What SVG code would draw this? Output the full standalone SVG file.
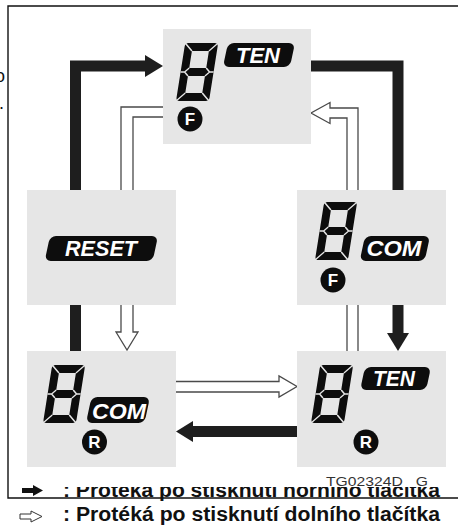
<svg xmlns="http://www.w3.org/2000/svg" xmlns:xlink="http://www.w3.org/1999/xlink" width="458" height="527" viewBox="0 0 458 527">
<style>
.box{fill:#e6e6e6}
.thick{fill:none;stroke:#1e1e1e;stroke-width:11;stroke-linejoin:miter}
.head{fill:#1e1e1e}
.open{fill:#fff;stroke:#4a4a4a;stroke-width:1.3;stroke-linejoin:miter}
.badge{fill:#0d0d0d}
.btxt{fill:#fff;font-family:"Liberation Sans",Arial,sans-serif;font-weight:bold;font-style:italic;font-size:22px;text-anchor:middle}
.ctxt{fill:#fff;font-family:"Liberation Sans",Arial,sans-serif;font-weight:bold;font-size:17px;text-anchor:middle}
.frame{fill:none;stroke:#111;stroke-width:1.4}
.leg{fill:#111;font-family:"Liberation Sans",Arial,sans-serif;font-weight:bold;font-size:20px}
</style>
<defs>
<g id="d8" transform="translate(0,58) skewX(-9) translate(0,-58)">
<path fill="#0d0d0d" fill-rule="evenodd" d="M3.5,0 H29.5 Q33,0 33,3.5 V54.5 Q33,58 29.5,58 H3.5 Q0,58 0,54.5 V3.5 Q0,0 3.5,0 Z M8,8 V25 H25 V8 Z M8,33 V50 H25 V33 Z"/>
<path fill="none" stroke="#e6e6e6" stroke-width="1.4" d="M0,0 L8,8 M33,0 L25,8 M0,58 L8,50 M33,58 L25,50 M0,29 L4,29 L8,25 M4,29 L8,33 M33,29 L29,29 L25,25 M29,29 L25,33"/>
</g>
<clipPath id="legclip"><rect x="0" y="487" width="458" height="40"/></clipPath>
</defs>
<rect width="458" height="527" fill="#fff"/>
<text x="-5" y="82" style="font-family:'Liberation Sans',Arial,sans-serif;font-size:18px;fill:#111">o</text>
<text x="-1" y="109" style="font-family:'Liberation Sans',Arial,sans-serif;font-size:18px;fill:#111">.</text>
<path class="frame" d="M458,6 H8 V498 H458"/>
<g id="connectors">
<path class="thick" d="M75.5,351 V66 H146"/>
<polygon class="head" points="145,55 163,66 145,77"/>
<path class="thick" d="M311,66 H398 V334"/>
<polygon class="head" points="387,333 409,333 398,351"/>
<path class="thick" d="M297,431.5 H192"/>
<polygon class="head" points="193,421 193,442 176,431.5"/>
<polygon class="open" points="166,107 121,107 121,332 116,332 127,350 138,332 133,332 133,117 166,117"/>
<polygon class="open" points="358,354 358,108 330,108 330,102.5 311,113 330,123.5 330,118 347,118 347,354"/>
<polygon class="open" points="173,381.5 279,381.5 279,376 297,386.5 279,397 279,392 173,392"/>
</g>
<g id="node-top">
<rect class="box" x="163" y="29" width="148" height="115"/>
<use xlink:href="#d8" x="176" y="43"/>
<g transform="translate(223,43)"><rect class="badge" x="5" y="0" width="67" height="24" rx="6" transform="skewX(-12)"/></g>
<text class="btxt" x="258" y="63" textLength="44" lengthAdjust="spacingAndGlyphs">TEN</text>
<circle cx="190" cy="119" r="12.5" fill="#0d0d0d"/>
<text class="ctxt" x="190" y="125">F</text>
</g>
<g id="node-reset">
<rect class="box" x="27" y="190" width="149" height="115"/>
<g transform="translate(45,236)"><rect class="badge" x="5" y="0" width="108" height="25" rx="6" transform="skewX(-12)"/></g>
<text class="btxt" x="101" y="256" textLength="72" lengthAdjust="spacingAndGlyphs">RESET</text>
</g>
<g id="node-comf">
<rect class="box" x="297" y="190" width="149" height="115"/>
<use xlink:href="#d8" x="315" y="202"/>
<g transform="translate(360,236)"><rect class="badge" x="5" y="0" width="65" height="25" rx="6" transform="skewX(-12)"/></g>
<text class="btxt" x="394" y="256" textLength="55" lengthAdjust="spacingAndGlyphs">COM</text>
<circle cx="333" cy="280" r="12.5" fill="#0d0d0d"/>
<text class="ctxt" x="333" y="286">F</text>
</g>
<g id="node-comr">
<rect class="box" x="27" y="351" width="149" height="116"/>
<use xlink:href="#d8" x="43" y="365"/>
<g transform="translate(86,397)"><rect class="badge" x="5.5" y="0" width="58.5" height="26" rx="6" transform="skewX(-12)"/></g>
<text class="btxt" x="119" y="419" textLength="54" lengthAdjust="spacingAndGlyphs">COM</text>
<circle cx="94.5" cy="442" r="12.5" fill="#0d0d0d"/>
<text class="ctxt" x="94.5" y="448">R</text>
</g>
<g id="node-tenr">
<rect class="box" x="297" y="351" width="149" height="116"/>
<use xlink:href="#d8" x="311" y="365"/>
<g transform="translate(360,367)"><rect class="badge" x="5" y="0" width="66" height="23" rx="6" transform="skewX(-12)"/></g>
<text class="btxt" x="394" y="386" textLength="42" lengthAdjust="spacingAndGlyphs">TEN</text>
<circle cx="366" cy="442" r="12.5" fill="#0d0d0d"/>
<text class="ctxt" x="366" y="448">R</text>
</g>
<text x="326" y="486" textLength="102" lengthAdjust="spacingAndGlyphs" style="font-family:'Liberation Sans',Arial,sans-serif;font-size:13px;fill:#333" xml:space="preserve">TG02324D   G</text>
<g id="legend">
<polygon fill="#111" points="22,488 33,488 33,485 43,490.5 33,496 33,493 22,493"/>
<text class="leg" x="63" y="497" textLength="377" lengthAdjust="spacingAndGlyphs" clip-path="url(#legclip)">: Proteká po stisknutí horního tlačítka</text>
<polygon fill="#fff" stroke="#333" stroke-width="1" points="20,514 31,514 31,511 42,516.5 31,522 31,519 20,519"/>
<text class="leg" x="63" y="521" textLength="377" lengthAdjust="spacingAndGlyphs">: Protéká po stisknutí dolního tlačítka</text>
</g>
</svg>
